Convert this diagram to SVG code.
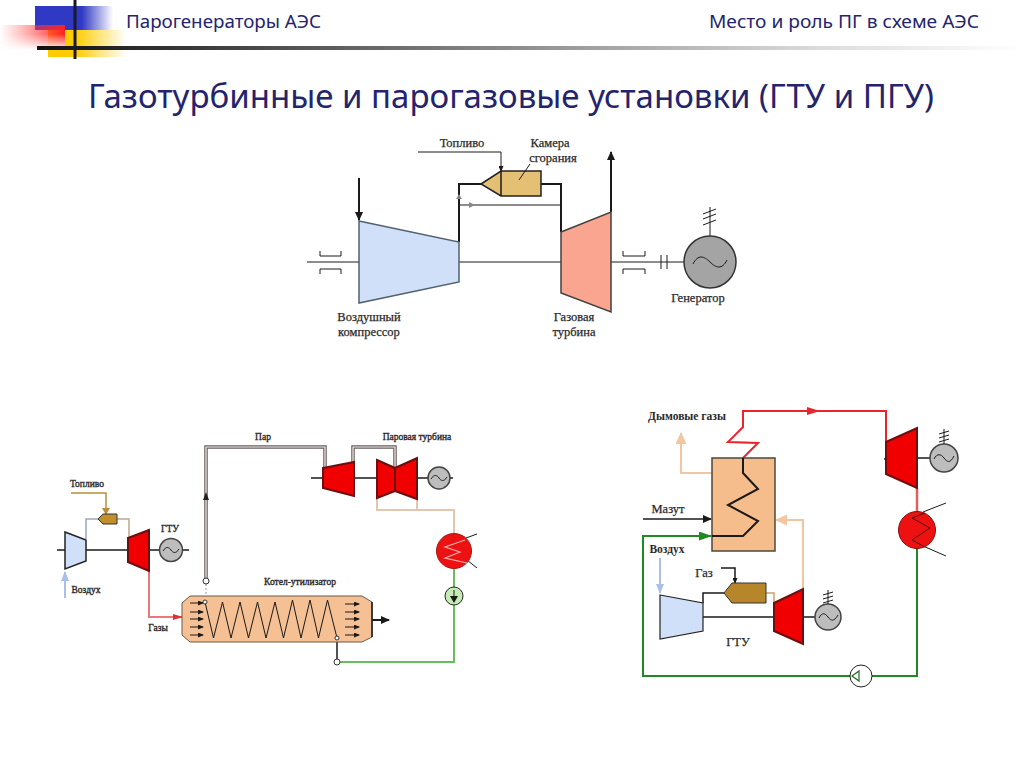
<svg xmlns="http://www.w3.org/2000/svg" width="1024" height="767" viewBox="0 0 1024 767">
<style>
.hd{font-family:"Noto Sans","DejaVu Sans",sans-serif;fill:#24246e}
.t{font-family:"Liberation Serif","DejaVu Serif",serif;font-size:12.5px;fill:#2a2a2a;text-anchor:middle;stroke:#2a2a2a;stroke-width:.25}
.s{font-size:9.5px;stroke-width:.35}
.m{font-size:11.5px;font-weight:bold;stroke:none}
.k{stroke:#1a1a1a;stroke-width:1.5;fill:none}
.k2{stroke:#1a1a1a;stroke-width:2;fill:none}
.th{stroke:#1a1a1a;stroke-width:1;fill:none}
.red{fill:#f00000;stroke:#6a1010;stroke-width:2}
.gen{fill:#bdbdbd;stroke:#444;stroke-width:1.5}
.ln-r{stroke:#e8262c;stroke-width:2;fill:none}
.ln-p{stroke:#e06060;stroke-width:2.500;fill:none}
.ln-p2{stroke:#ea7878;stroke-width:2;fill:none}
.ln-g{stroke:#1f8a22;stroke-width:2;fill:none}
.ln-lg{stroke:#69bd5f;stroke-width:2;fill:none}
.ln-t{stroke:#f4c6a0;stroke-width:2;fill:none}
.ln-c{stroke:#e4c6ae;stroke-width:2;fill:none}
.ln-b{stroke:#a9bfe6;stroke-width:2;fill:none}
.ln-s{stroke:#6a5c5c;stroke-width:3.500;fill:none}
.ln-sw{stroke:#f2f2f2;stroke-width:1.2;fill:none}
</style>
<defs>
<linearGradient id="gB"><stop offset="0" stop-color="#2f39c4"/><stop offset=".6" stop-color="#2f39c4"/><stop offset="1" stop-color="#2f39c4" stop-opacity="0"/></linearGradient>
<linearGradient id="gY"><stop offset="0" stop-color="#ffcc00"/><stop offset=".35" stop-color="#ffcc00"/><stop offset="1" stop-color="#ffcc00" stop-opacity="0"/></linearGradient>
<linearGradient id="gR"><stop offset="0" stop-color="#ff5050" stop-opacity="0"/><stop offset="1" stop-color="#ff2020"/></linearGradient>
<linearGradient id="gF" x2="0" y2="1"><stop offset="0" stop-color="#fff" stop-opacity="0"/><stop offset="1" stop-color="#fff"/></linearGradient>
<linearGradient id="gL"><stop offset="0" stop-color="#111"/><stop offset=".4" stop-color="#777"/><stop offset=".8" stop-color="#ddd"/><stop offset="1" stop-color="#fff"/></linearGradient>
<marker id="aK" markerWidth="9" markerHeight="8" refX="8" refY="4" orient="auto" markerUnits="userSpaceOnUse"><path d="M0 0L9 4L0 8Z" fill="#1a1a1a"/></marker>
<marker id="aS" markerWidth="6" markerHeight="5" refX="5" refY="2.5" orient="auto" markerUnits="userSpaceOnUse"><path d="M0 0L6 2.500L0 5Z" fill="#1a1a1a"/></marker>
<marker id="aY" markerWidth="7" markerHeight="8" refX="6" refY="4" orient="auto" markerUnits="userSpaceOnUse"><path d="M0 0L7 4L0 8Z" fill="#b98d3a"/></marker>
<marker id="aB" markerWidth="10" markerHeight="8" refX="9" refY="4" orient="auto" markerUnits="userSpaceOnUse"><path d="M0 0L10 4L0 8Z" fill="#a9bfe6"/></marker>
<marker id="aP" markerWidth="10" markerHeight="6" refX="9" refY="3" orient="auto" markerUnits="userSpaceOnUse"><path d="M0 0L10 3L0 6Z" fill="#e03030"/></marker>
<marker id="aT" markerWidth="12" markerHeight="11" refX="11" refY="5.500" orient="auto" markerUnits="userSpaceOnUse"><path d="M0 0L12 5.500L0 11Z" fill="#f4c6a0"/></marker>
<marker id="aG" markerWidth="13" markerHeight="9" refX="12" refY="4.500" orient="auto" markerUnits="userSpaceOnUse"><path d="M0 0L13 4.500L0 9Z" fill="#1f8a22"/></marker>
</defs>

<g id="header">
<rect x="35" y="6" width="78" height="24" fill="url(#gB)"/>
<rect x="48" y="30" width="78" height="27" fill="url(#gY)"/>
<rect x="0" y="25" width="65" height="25" fill="url(#gR)"/>
<rect x="0" y="34" width="65" height="16" fill="url(#gF)"/>
<rect x="37" y="46" width="987" height="4" fill="url(#gL)"/>
<rect x="73.500" y="0" width="3" height="59" fill="#1a1a2a"/>
<text class="hd" x="126" y="28" font-size="17.500" textLength="195" lengthAdjust="spacingAndGlyphs">Парогенераторы АЭС</text>
<text class="hd" x="709" y="28" font-size="17.500" textLength="270" lengthAdjust="spacingAndGlyphs">Место и роль ПГ в схеме АЭС</text>
<text class="hd" x="88" y="108" font-size="33" textLength="846" lengthAdjust="spacingAndGlyphs">Газотурбинные и парогазовые установки (ГТУ и ПГУ)</text>
</g>

<g id="connectors">
<path class="th" d="M307 262H359M459 262H561M611 262H684"/>
<path class="k2" d="M459 242V184H481M541 184H561V232"/>
<path class="th" d="M459 205H560"/>
<path d="M469 202L475 205L469 208Z" fill="#888"/>
<path d="M459 194L456 199H462Z" fill="#888"/>
<path class="th" d="M418 152H501V171" marker-end="url(#aS)"/>
<path class="k2" d="M359 178V220" marker-end="url(#aK)"/>
<path class="k2" d="M611 212V152" marker-end="url(#aK)"/>
<path class="th" d="M710 236V207M703 214L716 209M703 219L716 214M703 225L716 220"/>
<path class="th" d="M661 255V269M667 255V269"/>
<path class="th" d="M320 251V256H341V251M320 274V269H341V274M623 251V256H645V251M623 274V269H645V274"/>
<path class="k" d="M57 550H65M86 550H128M149 550H189"/>
<path stroke="#9aa7bf" stroke-width="1.500" fill="none" d="M86 539V519H98"/>
<path stroke="#c0a890" stroke-width="1.500" fill="none" d="M117 519H129V538"/>
<path stroke="#b98d3a" stroke-width="1.500" fill="none" d="M71 493H106V514" marker-end="url(#aY)"/>
<path class="ln-b" d="M65 598V572" marker-end="url(#aB)"/>
<path class="ln-p2" d="M149 571V617H182" marker-end="url(#aP)"/>
<path class="ln-s" d="M206 578V447H325V468"/>
<path class="ln-sw" d="M206 578V447H325V468"/>
<path d="M206 492L203 500H209Z" fill="#222"/>
<path class="ln-s" d="M353 462V447H395V468"/>
<path class="ln-sw" d="M353 462V447H395V468"/>
<path class="ln-c" d="M377 498V510H454V533M417 499V510"/>
<path stroke="#999" stroke-width="1" stroke-dasharray="2 2" fill="none" d="M206 584V600"/>
<path class="k" d="M311 478H323M354 478H377M417 478H453"/>
<path class="ln-lg" d="M340 662H454V568"/>
<path class="k" d="M337 641V659"/>
<path class="k2" d="M372 620H389" marker-end="url(#aK)"/>
<path class="ln-r" d="M743 458L758 443L728 442L743 427V411H886V442"/>
<path d="M807 407L820 411L807 415Z" fill="#e8262c"/>
<path class="ln-p" d="M917 488V512"/>
<path class="ln-g" d="M917 548V676H872M850 676H643V536H711" marker-end="url(#aG)"/>
<path class="ln-t" d="M712 473H681V433" marker-end="url(#aT)"/>
<path class="ln-t" d="M803 589V520H776" marker-end="url(#aT)"/>
<path class="k" d="M643 519H711" marker-end="url(#aK)"/>
<path class="ln-b" d="M660 558V593" marker-end="url(#aB)"/>
<path class="k" d="M721 568H735V583" marker-end="url(#aS)"/>
<path class="k" d="M703 603V593H724"/>
<path stroke="#c9a26a" stroke-width="1.500" fill="none" d="M766 593H774V603"/>
<path class="k" d="M703 617H774M803 617H815M917 458H931M884 459H886"/>
<path class="th" d="M923 512L946 503M923 546L946 556"/>
<path class="th" d="M466 538L477 534M467 560L477 568"/>
</g>

<g id="compressor"><polygon points="359,221 459,242 459,282 359,303" fill="#cfe0f8" stroke="#506070" stroke-width="1.500"/>
<text class="t" x="369" y="321">Воздушный</text><text class="t" x="369" y="336">компрессор</text></g>
<g id="chamber"><polygon points="481,184 501,171 541,171 541,196 501,196" fill="#e3c073" stroke="#222" stroke-width="1.500"/><path class="k" d="M501 171V196"/><path class="th" d="M519 180L530 164"/>
<text class="t" x="550" y="147">Камера</text><text class="t" x="553" y="162">сгорания</text></g>
<g id="fuel-label"><text class="t" x="462" y="147">Топливо</text></g>
<g id="turbine"><polygon points="561,232 611,212 611,312 561,293" fill="#f9a590" stroke="#404040" stroke-width="1.500"/>
<text class="t" x="574" y="321">Газовая</text><text class="t" x="574" y="336">турбина</text></g>
<g id="generator"><circle cx="710" cy="262" r="26" fill="#a4a4a4" stroke="#333" stroke-width="1.500"/><path class="th" d="M693 264C698 254 704 256 710 262S722 270 727 260" stroke-width="1.200"/>
<text class="t" x="698" y="302">Генератор</text></g>

<g id="gtu-left">
<polygon points="65,532 86,540 86,561 65,569" fill="#cfe0f8" stroke="#222" stroke-width="1.500"/>
<polygon points="98,519 103,514 117,514 117,524 103,524" fill="#c28f2c" stroke="#333"/>
<polygon class="red" points="128,538 149,530 149,571 128,562"/>
<circle class="gen" cx="171" cy="550" r="11.500"/><path class="th" d="M163 551C166 546 169 547 171 550S176 554 179 549"/>
<text class="t s" x="87" y="487">Топливо</text><text class="t s" x="170" y="532">ГТУ</text><text class="t s" x="86" y="593">Воздух</text><text class="t s" x="158" y="631">Газы</text>
</g>
<g id="boiler">
<polygon points="190,596 362,596 372,602 372,637 362,642 190,642 182,635 182,603" fill="#f4c094" stroke="#6a5a4a"/>
<path class="k" d="M372 602V637"/>
<path class="th" stroke-width="1.200" d="M205 602L213.500 638L222.500 602L231 638L240 602L248.500 638L257.500 602L266 638L275 602L283.500 638L292.500 600L301 638L310 600L318.500 638L327.500 600L337 638"/>
<path class="th" marker-end="url(#aS)" d="M190 603H203"/><path class="th" marker-end="url(#aS)" d="M190 612H203"/><path class="th" marker-end="url(#aS)" d="M190 619H203"/><path class="th" marker-end="url(#aS)" d="M190 627H203"/><path class="th" marker-end="url(#aS)" d="M190 635H203"/>
<path class="th" marker-end="url(#aS)" d="M345 604H359"/><path class="th" marker-end="url(#aS)" d="M345 612H359"/><path class="th" marker-end="url(#aS)" d="M345 619H359"/><path class="th" marker-end="url(#aS)" d="M345 627H359"/><path class="th" marker-end="url(#aS)" d="M345 635H359"/>
<circle cx="206" cy="581" r="3" fill="#fff" stroke="#333"/><circle cx="205" cy="602" r="2" fill="#fff" stroke="#333"/>
<circle cx="337" cy="638" r="2" fill="#fff" stroke="#333"/><circle cx="337" cy="662" r="3" fill="#fff" stroke="#333"/>
<text class="t s" x="300" y="585">Котел-утилизатор</text><text class="t s" x="263" y="440">Пар</text>
</g>
<g id="steam-turbine">
<polygon class="red" points="323,468 354,462 354,496 323,488"/>
<polygon class="red" points="377,460 395,468 395,491 377,498"/>
<polygon class="red" points="395,468 417,458 417,499 395,491"/>
<circle class="gen" cx="439" cy="478" r="11"/><path class="th" d="M431 479C434 474 437 475 439 478S444 482 447 477"/>
<text class="t s" x="417" y="440">Паровая турбина</text>
</g>
<g id="condenser-left"><circle cx="454" cy="551" r="17.500" fill="#ee1111" stroke="#a01818"/><path fill="none" stroke="#f8b0b0" stroke-width="1.200" d="M465 540L445 547L460 552L445 558L467 563"/></g>
<g id="pump-left"><circle cx="454" cy="596" r="9" fill="#c4ecb4" stroke="#222"/><path class="th" d="M454 590V600"/><path d="M450 596H458L454 603Z" fill="#1a1a1a"/></g>

<g id="hrsg">
<rect x="712" y="458" width="63" height="93" fill="#f6bd8c" stroke="#4a4a3a" stroke-width="1.500"/>
<path class="k2" d="M743 458V473L758 489L728 505L758 521L743 536H712"/>
<text class="t m" x="687" y="420">Дымовые газы</text><text class="t" x="668" y="513">Мазут</text><text class="t m" x="667" y="553">Воздух</text>
</g>
<g id="gtu-right">
<polygon points="660,595 703,603 703,631 660,639" fill="#cfe0f8" stroke="#222" stroke-width="1.200"/>
<polygon points="724,593 732,583 766,583 766,603 732,603" fill="#b8862a" stroke="#333"/>
<polygon class="red" points="774,603 803,589 803,644 774,631"/>
<circle class="gen" cx="828" cy="617" r="13"/><path class="th" d="M819 618C822 612 825 613 828 617S834 622 838 615"/>
<path class="th" d="M828 604V590M823 595L833 592M823 599L833 596M823 603L833 600"/>
<text class="t" x="704" y="577">Газ</text><text class="t" x="738" y="646">ГТУ</text>
</g>
<g id="steam-turbine-right">
<polygon class="red" points="886,442 917,428 917,488 886,474"/>
<circle class="gen" cx="944" cy="458" r="14"/><path class="th" d="M934 459C937 453 941 454 944 458S950 464 954 456"/>
<path class="th" d="M944 444V429M939 434L949 431M939 438L949 435M939 442L949 439"/>
</g>
<g id="condenser-right"><circle cx="917" cy="530" r="18.500" fill="#ee1111" stroke="#801010"/><path fill="none" stroke="#501010" stroke-width="1" d="M925 513L912 518L930 528L912 540L925 547"/></g>
<g id="pump-right"><circle cx="861" cy="676" r="11" fill="#fff" stroke="#222"/><path d="M852 676L859 671V681Z" fill="none" stroke="#1f6a22" stroke-width="1.200"/></g>
</svg>
